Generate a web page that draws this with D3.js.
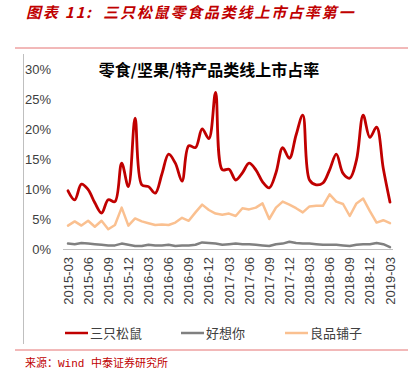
<!DOCTYPE html>
<html>
<head>
<meta charset="utf-8">
<script src="https://cdn.jsdelivr.net/npm/d3@7"></script>
<style>
    body { margin: 0; background: #fff; }
    svg { display: block; font-family: "Liberation Sans", "Noto Sans CJK SC", sans-serif; }
</style>
</head>
<body>
<div id="chart"></div>
<script>
// Months, 2015-03 .. 2019-03
const months = [
    "2015-03","2015-04","2015-05","2015-06","2015-07","2015-08","2015-09","2015-10","2015-11","2015-12",
    "2016-01","2016-02","2016-03","2016-04","2016-05","2016-06","2016-07","2016-08","2016-09","2016-10","2016-11","2016-12",
    "2017-01","2017-02","2017-03","2017-04","2017-05","2017-06","2017-07","2017-08","2017-09","2017-10","2017-11","2017-12",
    "2018-01","2018-02","2018-03","2018-04","2018-05","2018-06","2018-07","2018-08","2018-09","2018-10","2018-11","2018-12",
    "2019-01","2019-02","2019-03"
];
const tickLabels = ["2015-03","2015-06","2015-09","2015-12","2016-03","2016-06","2016-09","2016-12",
    "2017-03","2017-06","2017-09","2017-12","2018-03","2018-06","2018-09","2018-12","2019-03"];
const yTicks = [0, 5, 10, 15, 20, 25, 30];

// market share, %
const squirrel = [9.7, 8.2, 10.8, 9.9, 7.7, 6.0, 8.2, 7.9, 14.3, 10.4, 21.8, 10.7, 10.4, 9.3, 12.5, 15.8, 14.3,
    11.3, 17.2, 16.9, 20.0, 18.4, 26.1, 13.2, 13.3, 11.5, 12.7, 14.3, 13.2, 11.2, 10.2, 12.7, 16.9, 15.1,
    19.0, 22.3, 11.5, 10.7, 11.0, 13.2, 15.8, 12.6, 11.8, 14.8, 22.3, 18.6, 20.3, 13.4, 7.8];
const haoxiangni = [0.9, 0.8, 1.0, 0.9, 0.8, 0.7, 0.6, 0.6, 0.9, 0.7, 0.5, 0.5, 0.7, 0.6, 0.6, 0.7, 0.5,
    0.6, 0.6, 0.7, 1.1, 1.0, 0.9, 0.7, 0.8, 0.9, 0.8, 0.8, 0.7, 0.6, 0.5, 0.8, 0.9, 1.2,
    1.0, 0.9, 0.9, 0.8, 0.7, 0.7, 0.7, 0.6, 0.5, 0.7, 0.8, 0.8, 1.0, 0.8, 0.3];
const bestore = [3.9, 4.6, 3.9, 4.7, 3.7, 4.7, 3.3, 4.0, 6.9, 3.9, 5.1, 4.6, 4.3, 4.0, 4.1, 4.0, 4.4,
    5.2, 4.7, 6.1, 7.4, 6.5, 5.9, 5.7, 5.9, 5.5, 6.8, 6.6, 6.9, 7.6, 5.0, 6.9, 7.9, 7.4,
    6.8, 6.1, 7.1, 7.2, 7.2, 9.1, 7.9, 7.5, 5.5, 7.6, 8.4, 6.3, 4.4, 4.8, 4.3];

const series = [
    {name: "三只松鼠", values: squirrel, color: "#C00000", smooth: true},
    {name: "好想你", values: haoxiangni, color: "#808080", smooth: false},
    {name: "良品铺子", values: bestore, color: "#FAC090", smooth: false}
];

const W = 419, H = 377;
const svg = d3.select("#chart").append("svg")
    .attr("width", W)
    .attr("height", H);

// Header title
svg.append("text")
    .attr("x", 26)
    .attr("y", 18)
    .attr("fill", "#C00000")
    .attr("font-size", 15)
    .attr("font-weight", "bold")
    .attr("font-style", "italic")
    .attr("font-family", "'Noto Sans CJK SC', sans-serif")
    .attr("letter-spacing", 1.8)
    .style("white-space", "pre")
    .text("图表 11:  三只松鼠零食品类线上市占率第一");

// Divider lines
[48, 350].forEach(y => {
    svg.append("line")
        .attr("x1", 15).attr("x2", 408)
        .attr("y1", y).attr("y2", y)
        .attr("stroke", "#E57373")
        .attr("stroke-width", 1);
});

// Chart frame left border
svg.append("line")
    .attr("x1", 23.5).attr("x2", 23.5)
    .attr("y1", 54).attr("y2", 344)
    .attr("stroke", "#BFBFBF");

// Scales
const x = d3.scalePoint()
    .domain(months)
    .range([68, 390]);
const y = d3.scaleLinear()
    .domain([0, 30])
    .range([249, 69]);

// Y axis labels
svg.append("g")
    .selectAll("text")
    .data(yTicks)
    .join("text")
    .attr("x", 51)
    .attr("y", d => y(d))
    .attr("dy", "0.35em")
    .attr("text-anchor", "end")
    .attr("font-size", 13)
    .attr("fill", "#404040")
    .text(d => d + "%");

// X axis line
svg.append("line")
    .attr("x1", 63).attr("x2", 393)
    .attr("y1", y(0) + 0.5).attr("y2", y(0) + 0.5)
    .attr("stroke", "#BFBFBF")
    .attr("stroke-width", 1.2);

// X axis labels
svg.append("g")
    .selectAll("text")
    .data(tickLabels)
    .join("text")
    .attr("transform", d => `translate(${x(d)}, 257) rotate(-90)`)
    .attr("dy", "0.35em")
    .attr("text-anchor", "end")
    .attr("font-size", 13)
    .attr("fill", "#404040")
    .text(d => d);

// Chart title
svg.append("text")
    .attr("x", 209)
    .attr("y", 76)
    .attr("text-anchor", "middle")
    .attr("font-size", 16)
    .attr("font-weight", "bold")
    .attr("fill", "#000")
    .attr("font-family", "'Noto Sans CJK SC', sans-serif")
    .text("零食/坚果/特产品类线上市占率");

// Lines
const plot = svg.append("g");
series.slice().reverse().forEach(s => {
    const line = d3.line()
        .x((d, i) => x(months[i]))
        .y(d => y(d))
        .curve(s.smooth ? d3.curveCatmullRom.alpha(0.5) : d3.curveLinear);
    plot.append("path")
        .datum(s.values)
        .attr("d", line)
        .attr("fill", "none")
        .attr("stroke", s.color)
        .attr("stroke-width", s.smooth ? 2.8 : 2.5)
        .attr("stroke-linejoin", "round")
        .attr("stroke-linecap", "round");
});

// Legend
const legendX = [65, 181, 285];
const legend = svg.append("g")
    .selectAll("g")
    .data(series)
    .join("g")
    .attr("transform", (d, i) => `translate(${legendX[i]}, 333)`);
legend.append("line")
    .attr("x1", 0).attr("x2", 23)
    .attr("stroke", d => d.color)
    .attr("stroke-width", 2.5);
legend.append("text")
    .attr("x", 25)
    .attr("dy", "0.35em")
    .attr("font-size", 13)
    .attr("fill", "#404040")
    .attr("font-family", "'Noto Sans CJK SC', sans-serif")
    .text(d => d.name);

// Source
svg.append("text")
    .attr("x", 25)
    .attr("y", 367)
    .attr("font-size", 11)
    .attr("fill", "#C00000")
    .attr("font-family", "'Liberation Mono', 'Noto Sans CJK SC', monospace")
    .text("来源：Wind 中泰证券研究所");
</script>
</body>
</html>
